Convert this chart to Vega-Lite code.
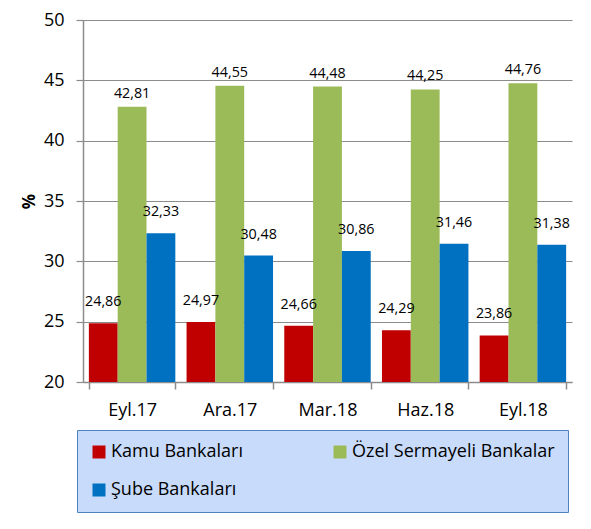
{
  "$schema": "https://vega.github.io/schema/vega-lite/v6.json",
  "width": 489,
  "height": 362,
  "autosize": "none",
  "padding": {"left": 83, "top": 20, "right": 19, "bottom": 147},
  "background": "white",
  "config": {
    "font": "Open Sans",
    "view": {"stroke": null},
    "locale": {"number": {"decimal": ",", "thousands": ".", "grouping": [3], "currency": ["", " TL"]}}
  },
  "data": {
    "values": [
      {"donem": "Eyl.17", "seri": "Kamu Bankaları", "oran": 24.86},
      {"donem": "Eyl.17", "seri": "Özel Sermayeli Bankalar", "oran": 42.81},
      {"donem": "Eyl.17", "seri": "Şube Bankaları", "oran": 32.33},
      {"donem": "Ara.17", "seri": "Kamu Bankaları", "oran": 24.97},
      {"donem": "Ara.17", "seri": "Özel Sermayeli Bankalar", "oran": 44.55},
      {"donem": "Ara.17", "seri": "Şube Bankaları", "oran": 30.48},
      {"donem": "Mar.18", "seri": "Kamu Bankaları", "oran": 24.66},
      {"donem": "Mar.18", "seri": "Özel Sermayeli Bankalar", "oran": 44.48},
      {"donem": "Mar.18", "seri": "Şube Bankaları", "oran": 30.86},
      {"donem": "Haz.18", "seri": "Kamu Bankaları", "oran": 24.29},
      {"donem": "Haz.18", "seri": "Özel Sermayeli Bankalar", "oran": 44.25},
      {"donem": "Haz.18", "seri": "Şube Bankaları", "oran": 31.46},
      {"donem": "Eyl.18", "seri": "Kamu Bankaları", "oran": 23.86},
      {"donem": "Eyl.18", "seri": "Özel Sermayeli Bankalar", "oran": 44.76},
      {"donem": "Eyl.18", "seri": "Şube Bankaları", "oran": 31.38}
    ]
  },
  "encoding": {
    "x": {
      "field": "donem", "type": "nominal",
      "sort": ["Eyl.17", "Ara.17", "Mar.18", "Haz.18", "Eyl.18"],
      "scale": {"paddingInner": 0.115, "paddingOuter": 0.06},
      "axis": {
        "title": null, "labelAngle": 0, "tickBand": "extent",
        "domainColor": "#8c8c8c", "tickColor": "#8c8c8c", "tickSize": 7, "domainWidth": 1.5, "tickWidth": 1.5,
        "labelFontSize": 18, "labelColor": "#000000", "labelPadding": 12
      }
    },
    "xOffset": {
      "field": "seri", "type": "nominal",
      "sort": ["Kamu Bankaları", "Özel Sermayeli Bankalar", "Şube Bankaları"],
      "scale": {"paddingInner": 0, "paddingOuter": 0}
    },
    "y": {
      "field": "oran", "type": "quantitative",
      "scale": {"domain": [20, 50], "zero": false, "nice": false},
      "axis": {
        "values": [20, 25, 30, 35, 40, 45, 50],
        "grid": true, "gridColor": "#8c8c8c", "gridWidth": 1.2,
        "domainColor": "#8c8c8c", "domainWidth": 1.5, "tickColor": "#8c8c8c", "tickSize": 7, "tickWidth": 1.2,
        "labelFontSize": 18, "labelColor": "#000000", "labelPadding": 12,
        "title": "%", "titleFontSize": 17, "titleFontWeight": "bold", "titleColor": "#000000", "titlePadding": 5
      }
    }
  },
  "layer": [
    {
      "mark": {"type": "bar", "clip": true},
      "encoding": {
        "color": {
          "field": "seri", "type": "nominal",
          "sort": ["Kamu Bankaları", "Özel Sermayeli Bankalar", "Şube Bankaları"],
          "scale": {"range": ["#c00000", "#9bbb59", "#0070c0"]},
          "legend": {
            "title": null, "orient": "none", "legendX": -6, "legendY": 410,
            "direction": "horizontal", "columns": 2, "gridAlign": "all",
            "symbolType": "square", "symbolSize": 169, "symbolStrokeWidth": 0, "symbolOpacity": 1,
            "labelFontSize": 18, "labelColor": "#000000", "labelOffset": 3, "labelLimit": 400,
            "columnPadding": 17, "rowPadding": 20, "padding": 13,
            "fillColor": "#c8dbfb",
            "strokeColor": "#4f81bd"
          }
        }
      }
    },
    {
      "transform": [{"filter": "datum.seri === 'Özel Sermayeli Bankalar'"}],
      "mark": {"type": "text", "baseline": "middle", "dy": -13, "fontSize": 14.3, "color": "#000000"},
      "encoding": {"text": {"field": "oran", "type": "quantitative", "format": ".2f"}}
    },
    {
      "transform": [{"filter": "datum.seri !== 'Özel Sermayeli Bankalar'"}],
      "mark": {"type": "text", "baseline": "middle", "dy": -21, "fontSize": 14.3, "color": "#000000"},
      "encoding": {"text": {"field": "oran", "type": "quantitative", "format": ".2f"}}
    }
  ]
}
